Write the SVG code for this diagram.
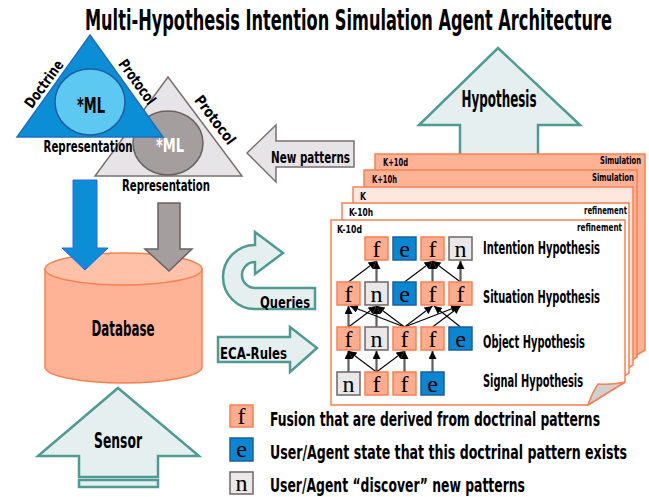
<svg xmlns="http://www.w3.org/2000/svg" width="649" height="497" viewBox="0 0 649 497">
<style>
.t{font-family:"Liberation Sans Narrow","DejaVu Sans Condensed","Liberation Sans",sans-serif;font-weight:bold;fill:#000}
.m{text-anchor:middle}
.e{text-anchor:end}
.ch{font-family:"Liberation Serif","DejaVu Serif",serif;font-size:24px;text-anchor:middle;fill:#000}
.bf{fill:#ffac8f;stroke:#ff7f50;stroke-width:1.5}
.be{fill:#0a87d0;stroke:#1a5fa0;stroke-width:1.5}
.bn{fill:#e9e7e7;stroke:#6e6666;stroke-width:1.5}
.teal{fill:#e6efef;stroke:#4f9b94;stroke-width:2.5;stroke-linejoin:miter}
.gry{fill:#e6e4e6;stroke:#7b6f6f;stroke-width:1.5}
.pg{stroke:#ff7f50;stroke-width:1.5}
.v{stroke:#606060;stroke-width:2.2;fill:none}
.d{stroke:#000;stroke-width:1.1;fill:none}
</style>
<defs>
<marker id="ah" viewBox="0 0 10 10" refX="10" refY="5" markerWidth="8" markerHeight="8" markerUnits="userSpaceOnUse" orient="auto"><path d="M0,0 L10,5 L0,10 z" fill="#000"/></marker>
</defs>

<text class="t m" x="348.5" y="30" font-size="28" textLength="527" lengthAdjust="spacingAndGlyphs">Multi-Hypothesis Intention Simulation Agent Architecture</text>

<!-- Gray triangle -->
<g id="gray-model">
<polygon class="gry" points="168,77 242,176 95,176"/>
<ellipse cx="168" cy="143" rx="35" ry="32" fill="#a49e9e" stroke="#6b6060" stroke-width="1.5"/>
<text class="t m" x="170" y="152" font-size="20" style="fill:#fff" textLength="28" lengthAdjust="spacingAndGlyphs">*ML</text>
<text class="t m" transform="translate(215,120) rotate(53)" x="0" y="5" font-size="15" textLength="57" lengthAdjust="spacingAndGlyphs">Protocol</text>
<text class="t m" x="166" y="191" font-size="15" textLength="88" lengthAdjust="spacingAndGlyphs">Representation</text>
</g>

<!-- Blue triangle -->
<g id="blue-model">
<polygon points="90,35 163,137 17,137" fill="#0b8ed6" stroke="#1f6fc0" stroke-width="1.5"/>
<ellipse cx="90" cy="102" rx="35" ry="33" fill="#5dc8f2" stroke="#1f5fa0" stroke-width="1.5"/>
<text class="t m" x="91" y="113" font-size="21" textLength="28" lengthAdjust="spacingAndGlyphs">*ML</text>
<text class="t m" transform="translate(44,84) rotate(-54)" x="0" y="5" font-size="15" textLength="55" lengthAdjust="spacingAndGlyphs">Doctrine</text>
<text class="t m" transform="translate(137,82) rotate(54)" x="0" y="5" font-size="15" textLength="52" lengthAdjust="spacingAndGlyphs">Protocol</text>
<text class="t m" x="88" y="152" font-size="15" textLength="89" lengthAdjust="spacingAndGlyphs">Representation</text>
</g>

<!-- Database -->
<g id="database">
<path d="M45,269 L45,367 A78.5,16 0 0 0 202,367 L202,269 Z" fill="#ffb396" stroke="#ff7f50" stroke-width="1.5"/>
<ellipse cx="123.5" cy="269" rx="78.5" ry="16" fill="#ffc2a8" stroke="#ff7f50" stroke-width="1.5"/>
<text class="t m" x="123" y="336" font-size="21" textLength="63" lengthAdjust="spacingAndGlyphs">Database</text>
</g>

<!-- Down arrows -->
<g id="blue-down-arrow">
<polygon points="73,180 97,180 97,248 108,248 85,270 62,248 73,248" fill="#0b8ed6" stroke="#2a62ff" stroke-width="1"/>
</g>
<g id="gray-down-arrow">
<polygon points="158,203 180,203 180,249 192,249 169,271 145,249 158,249" fill="#a49e9e" stroke="#6b6060" stroke-width="1.5"/>
</g>

<!-- Sensor arrow -->
<g id="sensor">
<polygon class="teal" points="118,388 199,456 158,456 158,477 79,477 79,456 38,456"/>
<rect x="79" y="480" width="79" height="7" class="teal"/>
<text class="t m" x="118" y="448" font-size="21" textLength="48" lengthAdjust="spacingAndGlyphs">Sensor</text>
</g>

<!-- Hypothesis arrow -->
<g id="hypothesis">
<polygon class="teal" points="498,48 580,125 538,125 538,160 460,160 460,125 419,125"/>
<text class="t m" x="499" y="107" font-size="23" textLength="75" lengthAdjust="spacingAndGlyphs">Hypothesis</text>
</g>

<!-- New patterns arrow -->
<g id="new-patterns">
<polygon class="gry" points="247,153 276,125 276,141 354,141 354,167 276,167 276,182"/>
<text class="t" x="271" y="163" font-size="15" textLength="79" lengthAdjust="spacingAndGlyphs">New patterns</text>
</g>

<!-- Queries arrow -->
<g id="queries">
<path class="teal" d="M255,245 L255,232 L283,253 L255,274 L255,262 A13,13 0 0 0 255,288 L315,288 L315,309 L255,309 A32,32 0 0 1 255,245 Z"/>
<text class="t" x="260" y="308" font-size="16" textLength="50" lengthAdjust="spacingAndGlyphs">Queries</text>
</g>

<!-- ECA-Rules arrow -->
<g id="eca-rules">
<polygon class="teal" points="218,337 290,337 290,327 317,348 290,372 290,362 218,362"/>
<text class="t" x="220" y="359" font-size="16" textLength="67" lengthAdjust="spacingAndGlyphs">ECA-Rules</text>
</g>

<!-- Pages -->
<g id="page-k+10d">
<polygon class="pg" fill="#ffb396" points="375,154 645,154 645,350 608,373 375,373"/>
<text class="t" x="383" y="166" font-size="11" textLength="25" lengthAdjust="spacingAndGlyphs">K+10d</text>
<text class="t e" x="641" y="164" font-size="11" textLength="41" lengthAdjust="spacingAndGlyphs">Simulation</text>
</g>
<g id="page-k+10h">
<polygon class="pg" fill="#ffb396" points="364,170 637,170 637,357 600,380 364,380"/>
<text class="t" x="372" y="183" font-size="11" textLength="25" lengthAdjust="spacingAndGlyphs">K+10h</text>
<text class="t e" x="634" y="181" font-size="11" textLength="42" lengthAdjust="spacingAndGlyphs">Simulation</text>
</g>
<g id="page-k">
<polygon class="pg" fill="#fde7de" points="353,187 633,187 633,365 596,388 353,388"/>
<text class="t" x="360" y="200" font-size="11" textLength="6" lengthAdjust="spacingAndGlyphs">K</text>
</g>
<g id="page-k-10h">
<polygon class="pg" fill="#fff" points="342,203 629,203 629,373 592,396 342,396"/>
<text class="t" x="349" y="216" font-size="11" textLength="24" lengthAdjust="spacingAndGlyphs">K-10h</text>
<text class="t e" x="627" y="214" font-size="11" textLength="43" lengthAdjust="spacingAndGlyphs">refinement</text>
</g>
<g id="page-k-10d">
<polygon class="pg" fill="#fff" points="331,220 625,220 625,382 588,405 331,405"/>
<path d="M598,384 Q612,385 625,382 L588,405 Q592,393 598,384 Z" fill="#d0d0d0" stroke="#ff7f50" stroke-width="1.5" stroke-linejoin="round"/>
<text class="t" x="337" y="233" font-size="11" textLength="25" lengthAdjust="spacingAndGlyphs">K-10d</text>
<text class="t e" x="622" y="231" font-size="11" textLength="45" lengthAdjust="spacingAndGlyphs">refinement</text>
</g>

<!-- Level labels -->
<g id="level-labels">
<text class="t" x="483" y="254" font-size="17" textLength="117" lengthAdjust="spacingAndGlyphs">Intention Hypothesis</text>
<text class="t" x="483" y="303" font-size="17" textLength="117" lengthAdjust="spacingAndGlyphs">Situation Hypothesis</text>
<text class="t" x="483" y="348" font-size="17" textLength="102" lengthAdjust="spacingAndGlyphs">Object Hypothesis</text>
<text class="t" x="483" y="387" font-size="17" textLength="100" lengthAdjust="spacingAndGlyphs">Signal Hypothesis</text>
</g>

<!-- Connectors -->
<g id="connectors">
<line class="d" x1="348.5" y1="282" x2="376.5" y2="261" marker-end="url(#ah)"/>
<line class="v" x1="376.5" y1="282" x2="376.5" y2="261" marker-end="url(#ah)"/>
<line class="d" x1="404.5" y1="282" x2="432.5" y2="261" marker-end="url(#ah)"/>
<line class="v" x1="432.5" y1="282" x2="432.5" y2="261" marker-end="url(#ah)"/>
<line class="d" x1="460.5" y1="282" x2="432.5" y2="261" marker-end="url(#ah)"/>
<line class="v" x1="460.5" y1="282" x2="460.5" y2="261" marker-end="url(#ah)"/>
<line class="v" x1="348.5" y1="327" x2="348.5" y2="306" marker-end="url(#ah)"/>
<line class="d" x1="348.5" y1="327" x2="376.5" y2="306" marker-end="url(#ah)"/>
<line class="v" x1="376.5" y1="327" x2="376.5" y2="306" marker-end="url(#ah)"/>
<line class="d" x1="404.5" y1="327" x2="350" y2="306" marker-end="url(#ah)"/>
<line class="d" x1="404.5" y1="327" x2="376.5" y2="306" marker-end="url(#ah)"/>
<line class="d" x1="404.5" y1="327" x2="432.5" y2="306" marker-end="url(#ah)"/>
<line class="d" x1="404.5" y1="327" x2="459" y2="306" marker-end="url(#ah)"/>
<line class="d" x1="432.5" y1="327" x2="460.5" y2="306" marker-end="url(#ah)"/>
<line class="d" x1="460.5" y1="327" x2="434" y2="306" marker-end="url(#ah)"/>
<line class="v" x1="348.5" y1="372" x2="348.5" y2="351" marker-end="url(#ah)"/>
<line class="d" x1="376.5" y1="372" x2="348.5" y2="351" marker-end="url(#ah)"/>
<line class="v" x1="376.5" y1="372" x2="376.5" y2="351" marker-end="url(#ah)"/>
<line class="d" x1="376.5" y1="372" x2="404.5" y2="351" marker-end="url(#ah)"/>
<line class="v" x1="404.5" y1="372" x2="404.5" y2="351" marker-end="url(#ah)"/>
<line class="v" x1="432.5" y1="372" x2="432.5" y2="351" marker-end="url(#ah)"/>
</g>

<g id="i1"><rect class="bf" x="365" y="237" width="23" height="23"/><text class="ch" x="376.5" y="257">f</text></g>
<g id="i2"><rect class="be" x="393" y="237" width="23" height="23"/><text class="ch" x="404.5" y="257">e</text></g>
<g id="i3"><rect class="bf" x="421" y="237" width="23" height="23"/><text class="ch" x="432.5" y="257">f</text></g>
<g id="i4"><rect class="bn" x="449" y="237" width="23" height="23"/><text class="ch" x="460.5" y="257">n</text></g>
<g id="s1"><rect class="bf" x="337" y="282" width="23" height="23"/><text class="ch" x="348.5" y="302">f</text></g>
<g id="s2"><rect class="bn" x="365" y="282" width="23" height="23"/><text class="ch" x="376.5" y="302">n</text></g>
<g id="s3"><rect class="be" x="393" y="282" width="23" height="23"/><text class="ch" x="404.5" y="302">e</text></g>
<g id="s4"><rect class="bf" x="421" y="282" width="23" height="23"/><text class="ch" x="432.5" y="302">f</text></g>
<g id="s5"><rect class="bf" x="449" y="282" width="23" height="23"/><text class="ch" x="460.5" y="302">f</text></g>
<g id="o1"><rect class="bf" x="337" y="327" width="23" height="23"/><text class="ch" x="348.5" y="347">f</text></g>
<g id="o2"><rect class="bn" x="365" y="327" width="23" height="23"/><text class="ch" x="376.5" y="347">n</text></g>
<g id="o3"><rect class="bf" x="393" y="327" width="23" height="23"/><text class="ch" x="404.5" y="347">f</text></g>
<g id="o4"><rect class="bf" x="421" y="327" width="23" height="23"/><text class="ch" x="432.5" y="347">f</text></g>
<g id="o5"><rect class="be" x="449" y="327" width="23" height="23"/><text class="ch" x="460.5" y="347">e</text></g>
<g id="g1"><rect class="bn" x="337" y="372" width="23" height="23"/><text class="ch" x="348.5" y="392">n</text></g>
<g id="g2"><rect class="bf" x="365" y="372" width="23" height="23"/><text class="ch" x="376.5" y="392">f</text></g>
<g id="g3"><rect class="bf" x="393" y="372" width="23" height="23"/><text class="ch" x="404.5" y="392">f</text></g>
<g id="g4"><rect class="be" x="421" y="372" width="23" height="23"/><text class="ch" x="432.5" y="392">e</text></g>

<g id="legend-f"><rect class="bf" x="230" y="405" width="23" height="22"/><text class="ch" x="241.5" y="424">f</text>
<text class="t" x="270" y="426" font-size="19" textLength="330" lengthAdjust="spacingAndGlyphs">Fusion that are derived from doctrinal patterns</text></g>
<g id="legend-e"><rect class="be" x="230" y="438" width="23" height="23"/><text class="ch" x="241.5" y="457">e</text>
<text class="t" x="270" y="459" font-size="19" textLength="357" lengthAdjust="spacingAndGlyphs">User/Agent state that this doctrinal pattern exists</text></g>
<g id="legend-n"><rect class="bn" x="230" y="472" width="23" height="22"/><text class="ch" x="241.5" y="491">n</text>
<text class="t" x="270" y="492" font-size="19" textLength="255" lengthAdjust="spacingAndGlyphs">User/Agent “discover” new patterns</text></g>
</svg>
